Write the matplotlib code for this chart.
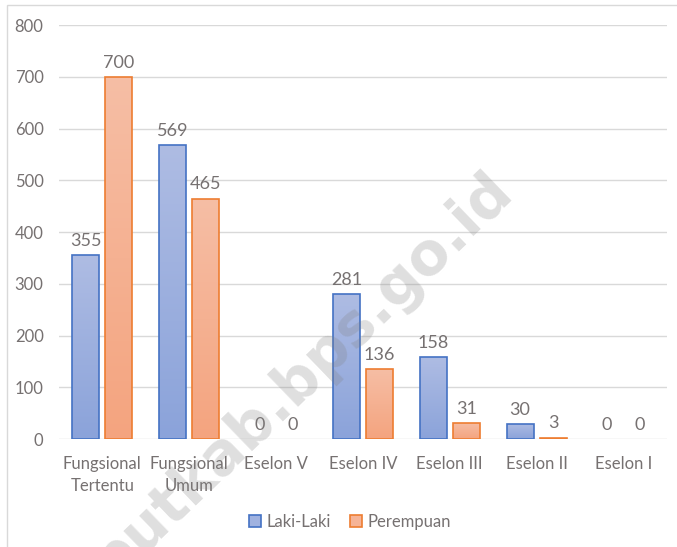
import numpy as np
import matplotlib.pyplot as plt
from matplotlib.colors import LinearSegmentedColormap
from matplotlib.patches import Rectangle

categories = ["Fungsional\nTertentu", "Fungsional\nUmum", "Eselon V", "Eselon IV",
              "Eselon III", "Eselon II", "Eselon I"]
laki = [355, 569, 0, 281, 158, 30, 0]
perempuan = [700, 465, 0, 136, 31, 3, 0]
series_names = ["Laki-Laki", "Perempuan"]

plt.rcParams['font.family'] = ['Lato', 'DejaVu Sans']
txt = '#767171'

fig = plt.figure(figsize=(6.77, 5.47), dpi=100)
ax = fig.add_axes([0.087, 0.197, 0.898, 0.757])

x = np.arange(len(categories))
w = 0.31
off = 0.19

blue_cm = LinearSegmentedColormap.from_list('b', ['#8BA3DA', '#AEBCE3'])
orng_cm = LinearSegmentedColormap.from_list('o', ['#F4A47F', '#F6BEA5'])
grad = np.linspace(0, 1, 100).reshape(-1, 1)

def draw_bars(xs, vals, cmap, edge):
    bars = ax.bar(xs, vals, w, color='none', edgecolor=edge, linewidth=1.2, zorder=3)
    for b, v in zip(bars, vals):
        ax.text(b.get_x() + w / 2, v + 12, str(v), ha='center', va='bottom',
                fontsize=13, color=txt, zorder=4)
        if v <= 0:
            b.set_linewidth(0)
            continue
        x0 = b.get_x()
        im = ax.imshow(grad, cmap=cmap, origin='lower', aspect='auto',
                       extent=[x0, x0 + w, 0, v], zorder=2)
        im.set_clip_path(b)
    return bars

draw_bars(x - off, laki, blue_cm, '#4472C4')
draw_bars(x + off, perempuan, orng_cm, '#ED7D31')

ax.set_xlim(-0.5, len(categories) - 0.5)
ax.set_ylim(0, 800)
ax.set_yticks(range(0, 801, 100))
ax.set_xticks(x)
ax.set_xticklabels(categories, fontsize=12, color=txt, linespacing=1.45)
ax.tick_params(axis='y', labelsize=12, labelcolor=txt, length=0, pad=11)
ax.tick_params(axis='x', length=0, pad=12)
ax.grid(axis='y', color='#D9D9D9', linewidth=1, zorder=0)
for s in ax.spines.values():
    s.set_visible(False)

handles = [Rectangle((0, 0), 1, 1, facecolor='#A0B2E0', edgecolor='#4472C4', lw=1.2),
           Rectangle((0, 0), 1, 1, facecolor='#F6B497', edgecolor='#ED7D31', lw=1.2)]
fig.legend(handles, series_names, loc='center', bbox_to_anchor=(350 / 677, 1 - 522 / 547),
           ncol=2, frameon=False, fontsize=12, labelcolor=txt, handlelength=0.7,
           handleheight=0.7, handletextpad=0.3, columnspacing=1.2)

# outer chart border
fig.add_artist(Rectangle((7 / 677, -0.01), 1.0, 1 - 5 / 547 + 0.01, transform=fig.transFigure,
                         fill=False, edgecolor='#D9D9D9', lw=1))

# watermark
fig.text(302 / 677, 1 - 376 / 547, "putkab.bps.go.id", rotation=44, ha='center', va='center',
         fontsize=42, fontweight='bold', color='#808080', alpha=0.25,
         family='DejaVu Sans', zorder=10)

fig.savefig('out.png', dpi=100)
